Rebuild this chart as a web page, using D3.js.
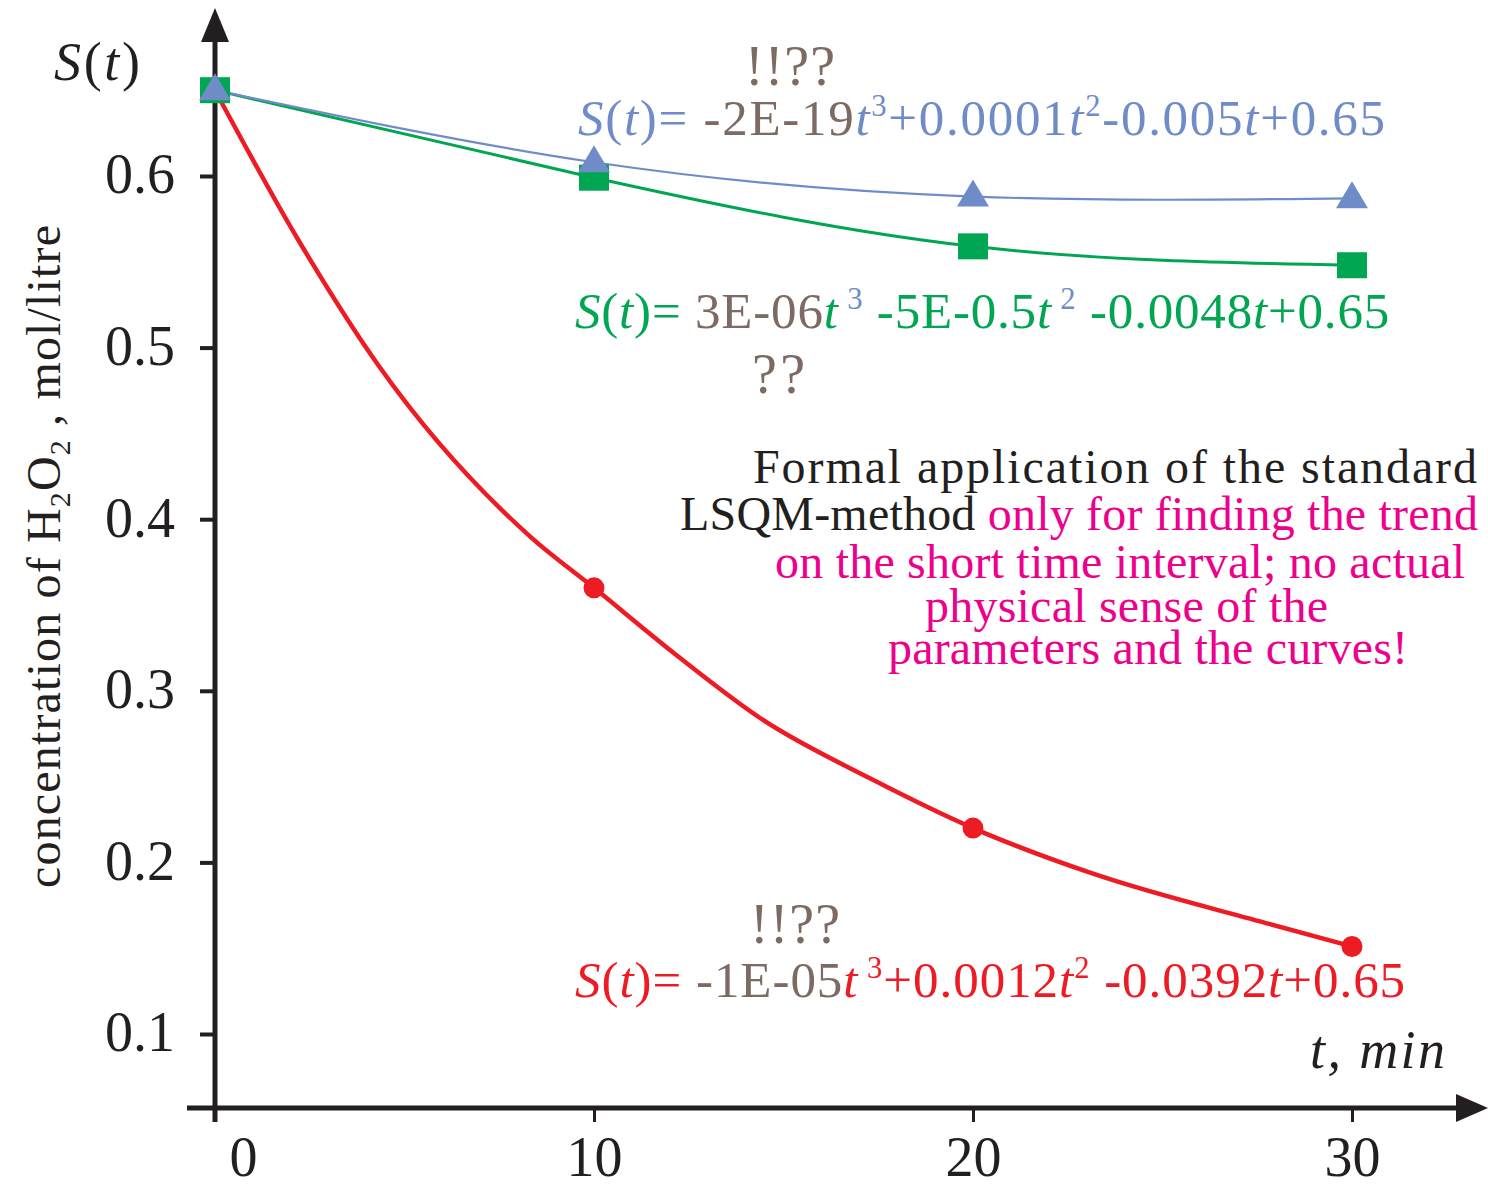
<!DOCTYPE html>
<html>
<head>
<meta charset="utf-8">
<script src="https://cdn.jsdelivr.net/npm/d3@7/dist/d3.min.js"></script>
<style>
html,body{margin:0;padding:0;background:#fff;}
svg{display:block;}
text{font-family:"Liberation Serif","Times New Roman",serif;}
</style>
</head>
<body>
<svg id="chart" width="1488" height="1189"></svg>
<script>
// ---- data ----
const times = [0, 10, 20, 30];
const blueValues  = [0.65, 0.608, 0.588, 0.587];
const greenValues = [0.65, 0.599, 0.559, 0.548];
const redValues   = [0.65, 0.36, 0.22, 0.151];
// vertices of the drawn red trend curve
const redTrendT = [0, 2.19, 4.30, 8.31, 10, 12.22, 14.46, 17.28, 20, 23.09, 27.84, 30];
const redTrendV = [0.65, 0.563, 0.490, 0.390, 0.36, 0.320, 0.283, 0.249, 0.22, 0.194, 0.164, 0.151];
const yTicks = [0.1, 0.2, 0.3, 0.4, 0.5, 0.6];
const xTicks = [0, 10, 20, 30];

const C = {blue:"#6f8cc9", green:"#00a651", red:"#ed1c24", brown:"#7d6a62", mag:"#ec008c", black:"#231f20"};

const svg = d3.select("#chart");
const x = d3.scaleLinear().domain([0, 30]).range([215, 1352]);
const y = d3.scaleLinear().domain([0.1, 0.6]).range([1034, 176]);

// ---- axes ----
const yAxis = d3.axisLeft(y).tickValues(yTicks).tickSize(15).tickPadding(25).tickFormat(d3.format(".1f"));
const gy = svg.append("g").attr("transform", "translate(215,0)").call(yAxis);
gy.select(".domain").remove();
gy.selectAll(".tick line").attr("stroke", C.black).attr("stroke-width", 4);
gy.selectAll(".tick text").attr("fill", C.black).style("font-size", "56px").attr("dy", "0.3em").style("font-family", "Liberation Serif");

const xAxis = d3.axisBottom(x).tickValues(xTicks).tickSize(14).tickFormat(d3.format("d"));
const gx = svg.append("g").attr("transform", "translate(0,1108)").call(xAxis);
gx.select(".domain").remove();
gx.selectAll(".tick line").attr("stroke", C.black).attr("stroke-width", 3);
gx.selectAll(".tick text").attr("fill", C.black).style("font-size", "56px").attr("y", 68).attr("dy", 0).style("font-family", "Liberation Serif")
  .attr("dx", d => d === 0 ? 28 : 0);

// axis lines with arrows
svg.append("line").attr("x1", 215).attr("x2", 215).attr("y1", 1122).attr("y2", 30)
  .attr("stroke", C.black).attr("stroke-width", 5);
svg.append("path").attr("d", "M215,8 L201,42 L229,42 Z").attr("fill", C.black);
svg.append("line").attr("x1", 187).attr("x2", 1465).attr("y1", 1108).attr("y2", 1108)
  .attr("stroke", C.black).attr("stroke-width", 5);
svg.append("path").attr("d", "M1488,1108 L1456,1094 L1456,1122 Z").attr("fill", C.black);

// ---- lines ----
const line = d3.line().x((d, i) => x(times[i])).y(d => y(d)).curve(d3.curveNatural);
const redLine = d3.line().x((d, i) => x(redTrendT[i])).y(d => y(d)).curve(d3.curveMonotoneX);
svg.append("path").datum(redTrendV).attr("d", redLine).attr("fill", "none").attr("stroke", C.red).attr("stroke-width", 4.5);
svg.append("path").datum(greenValues).attr("d", line).attr("fill", "none").attr("stroke", C.green).attr("stroke-width", 3);
svg.append("path").datum(blueValues).attr("d", line).attr("fill", "none").attr("stroke", C.blue).attr("stroke-width", 2.2);

// ---- markers ----
svg.selectAll(".rc").data(redValues).enter().append("circle")
  .attr("cx", (d, i) => x(times[i])).attr("cy", d => y(d)).attr("r", 10.5).attr("fill", C.red);
svg.selectAll(".gs").data(greenValues).enter().append("rect")
  .attr("x", (d, i) => x(times[i]) - 15).attr("y", d => y(d) - 13).attr("width", 30).attr("height", 26).attr("fill", C.green);
svg.selectAll(".bt").data(blueValues).enter().append("path")
  .attr("d", (d, i) => { const cx = x(times[i]), cy = y(d); return `M${cx},${cy-17} L${cx+16},${cy+10} L${cx-16},${cy+10} Z`; })
  .attr("fill", C.blue);

// ---- texts ----
function rich(xp, yp, parts, size, target) {
  const t = svg.append("text").attr("x", xp).attr("y", yp).style("font-size", size + "px");
  let n = 0;
  parts.forEach(p => {
    const ts = t.append("tspan").text(p.t).attr("fill", p.c || C.black);
    n += p.t.length;
    if (p.i) ts.style("font-style", "italic");
    if (p.sup) { ts.style("font-size", (size * 0.6) + "px").attr("dy", -size * 0.38); }
    if (p.back) ts.attr("dy", p.back);
  });
  if (target) {
    const w = t.node().getComputedTextLength();
    t.style("letter-spacing", ((target - w) / Math.max(1, n - 1)) + "px");
  }
  return t;
}

rich(54, 80, [{t:"S", i:1}, {t:"("}, {t:"t", i:1}, {t:")"}], 54, 86);
rich(1310, 1068, [{t:"t, min", i:1}], 54, 135);

// y-axis title
const yl = svg.append("text").attr("transform", "translate(60,888) rotate(-90)")
  .style("font-size", "48px").attr("fill", C.black);
yl.append("tspan").text("concentration of H");
yl.append("tspan").text("2").style("font-size", "30px").attr("dy", 10);
yl.append("tspan").text("O").attr("dy", -10);
yl.append("tspan").text("2").style("font-size", "30px").attr("dy", 10);
yl.append("tspan").text(" , mol/litre").attr("dy", -10);
{
  const w = yl.node().getComputedTextLength();
  yl.style("letter-spacing", ((663 - w) / 32) + "px");
}

// equations
const fs = 51, up = fs * 0.38;
rich(578, 135, [
  {t:"S", i:1, c:C.blue}, {t:"(", c:C.blue}, {t:"t", i:1, c:C.blue}, {t:")= ", c:C.blue},
  {t:"-2E-19", c:C.brown}, {t:"t", i:1, c:C.blue}, {t:"3", c:C.blue, sup:1},
  {t:"+0.0001", c:C.blue, back:up}, {t:"t", i:1, c:C.blue}, {t:"2", c:C.blue, sup:1},
  {t:"-0.005", c:C.blue, back:up}, {t:"t", i:1, c:C.blue}, {t:"+0.65", c:C.blue}
], fs, 807);

rich(575, 328, [
  {t:"S", i:1, c:C.green}, {t:"(", c:C.green}, {t:"t", i:1, c:C.green}, {t:")=  ", c:C.green},
  {t:"3E-06", c:C.brown}, {t:"t", i:1, c:C.green}, {t:" 3", c:C.blue, sup:1},
  {t:" -5E-0.5", c:C.green, back:up}, {t:"t", i:1, c:C.green}, {t:" 2", c:C.blue, sup:1},
  {t:" -0.0048", c:C.green, back:up}, {t:"t", i:1, c:C.green}, {t:"+0.65", c:C.green}
], fs, 815);

rich(575, 997, [
  {t:"S", i:1, c:C.red}, {t:"(", c:C.red}, {t:"t", i:1, c:C.red}, {t:")= ", c:C.red},
  {t:"-1E-05", c:C.brown}, {t:"t", i:1, c:C.red}, {t:" 3", c:C.red, sup:1},
  {t:"+0.0012", c:C.red, back:up}, {t:"t", i:1, c:C.red}, {t:"2", c:C.red, sup:1},
  {t:" -0.0392", c:C.red, back:up}, {t:"t", i:1, c:C.red}, {t:"+0.65", c:C.red}
], fs, 830);

rich(745, 85, [{t:"!!??", c:C.brown}], 56, 90);
rich(752, 393, [{t:"??", c:C.brown}], 56, 53);
rich(750, 943, [{t:"!!??", c:C.brown}], 56, 90);

// annotation
const af = 48;
rich(753, 483, [{t:"Formal application of the standard", c:C.black}], af, 724);
rich(680, 530, [{t:"LSQM-method ", c:C.black}, {t:"only for finding the trend", c:C.mag}], af, 798);
rich(775, 578, [{t:"on the short time interval; no actual", c:C.mag}], af, 690);
rich(925, 622, [{t:"physical sense of the", c:C.mag}], af, 403);
rich(888, 664, [{t:"parameters and the curves!", c:C.mag}], af, 520);
</script>
</body>
</html>
